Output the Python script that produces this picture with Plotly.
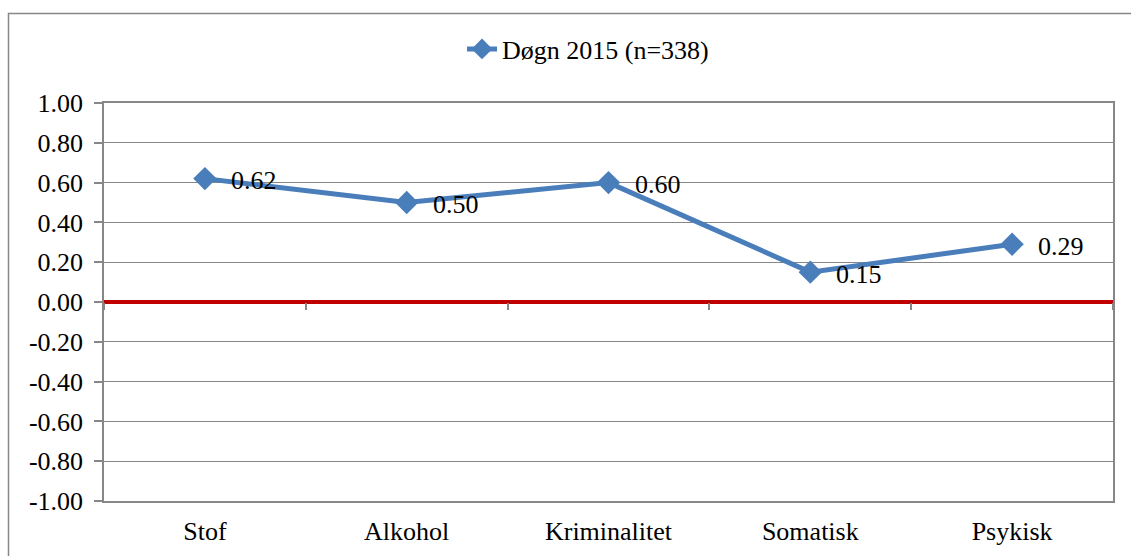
import plotly.graph_objects as go

categories = ["Stof", "Alkohol", "Kriminalitet", "Somatisk", "Psykisk"]
values = [0.62, 0.50, 0.60, 0.15, 0.29]
series_name = "Døgn 2015 (n=338)"
y_tick_values = [-1.0, -0.8, -0.6, -0.4, -0.2, 0.0, 0.2, 0.4, 0.6, 0.8, 1.0]
y_tick_labels = ["-1.00", "-0.80", "-0.60", "-0.40", "-0.20", "0.00",
                 "0.20", "0.40", "0.60", "0.80", "1.00"]

W, H = 1131, 556
ML, MR, MT, MB = 104, 18, 103, 55
PW, PH = W - ML - MR, H - MT - MB

LINE = "#4A7EBB"
GRID = "#878787"
FONT = "Liberation Serif"
FS = 26

fig = go.Figure()
fig.add_trace(go.Scatter(
    x=categories, y=values, name=series_name,
    mode="lines+markers",
    line=dict(color=LINE, width=5),
    marker=dict(symbol="diamond", size=18, color=LINE),
    cliponaxis=False,
))

# invisible trace so xaxis2 (boundary ticks on the zero line) is drawn
fig.add_trace(go.Scatter(x=[-0.5, 4.5], y=[0, 0], xaxis="x2", yaxis="y",
                         mode="lines", line=dict(width=0), showlegend=False,
                         hoverinfo="skip", opacity=0))

for c, v in zip(categories, values):
    fig.add_annotation(x=c, y=v, xref="x", yref="y", text=f"{v:.2f}",
                       showarrow=False, xanchor="left", yanchor="middle",
                       xshift=24, yshift=-2,
                       font=dict(family=FONT, size=FS, color="black"))


def px2paper_x(px):
    return (px - ML) / PW


def px2paper_y(py):
    return 1 - (py - MT) / PH


fig.update_layout(
    width=W, height=H, autosize=False,
    margin=dict(l=ML, r=MR, t=MT, b=MB, pad=0),
    paper_bgcolor="white", plot_bgcolor="white",
    font=dict(family=FONT, size=FS, color="black"),
    showlegend=True,
    legend=dict(orientation="h", x=px2paper_x(588), xanchor="center",
                y=px2paper_y(49), yanchor="middle",
                font=dict(family=FONT, size=FS), bgcolor="rgba(0,0,0,0)"),
    xaxis=dict(type="category", range=[-0.5, 4.5], automargin=False,
               showgrid=False, showline=True, linecolor=GRID, linewidth=1.5,
               mirror=True, ticks="", ticklabelstandoff=6,
               tickfont=dict(family=FONT, size=FS)),
    xaxis2=dict(overlaying="x", anchor="free", position=0.5, side="bottom",
                range=[-0.5, 4.5], tick0=-0.5, dtick=1, ticks="outside",
                ticklen=7, tickwidth=1.5, tickcolor=GRID, automargin=False,
                showticklabels=False, showgrid=False, showline=False,
                zeroline=False),
    yaxis=dict(range=[-1, 1], tickvals=y_tick_values, ticktext=y_tick_labels,
               automargin=False,
               showgrid=True, gridcolor=GRID, gridwidth=1.2,
               showline=True, linecolor=GRID, linewidth=1.5, mirror=True,
               ticks="outside", ticklen=8, tickcolor=GRID, tickwidth=1.5,
               ticklabelstandoff=6,
               zeroline=True, zerolinecolor="#C00000", zerolinewidth=3.5,
               tickfont=dict(family=FONT, size=FS)),
    shapes=[dict(type="rect", xref="paper", yref="paper",
                 x0=px2paper_x(8.5), x1=px2paper_x(1140),
                 y0=px2paper_y(13.5), y1=px2paper_y(600),
                 line=dict(color=GRID, width=1.5), fillcolor="rgba(0,0,0,0)",
                 layer="below")],
)

fig.write_html("out.html",
               config={"displayModeBar": False},
               post_script="document.body.style.margin='0';"
                           "document.body.style.overflow='hidden';")
